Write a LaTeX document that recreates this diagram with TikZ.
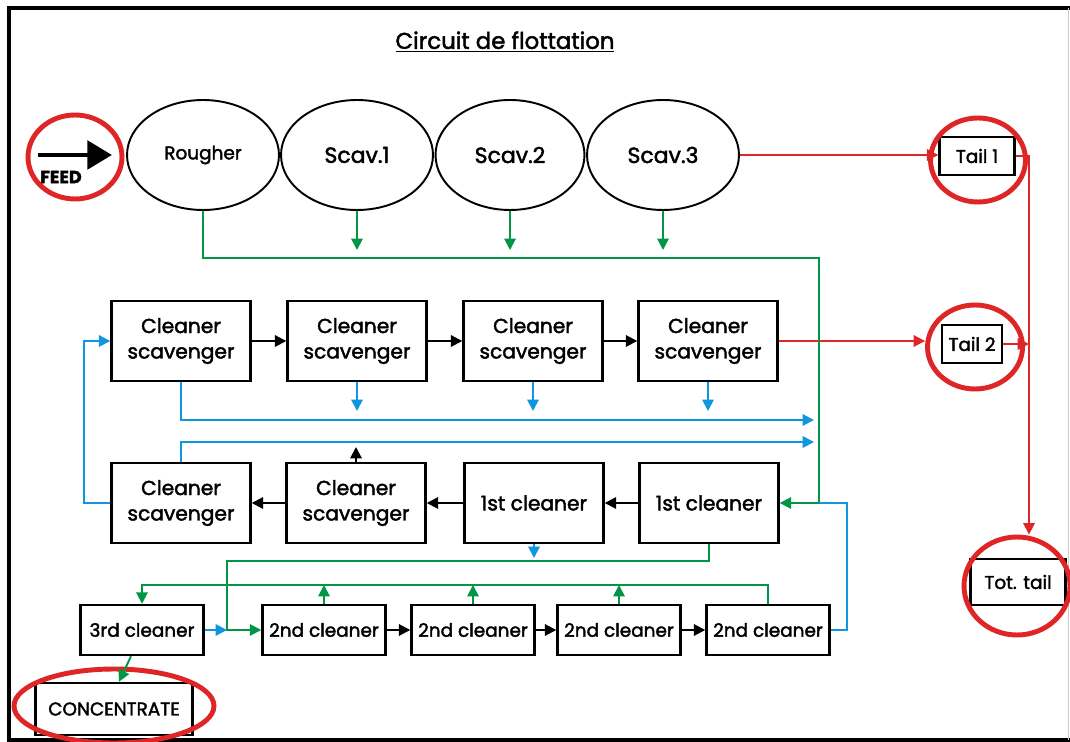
\documentclass[tikz,border=0pt]{standalone}
\usepackage{fontspec}
\setmainfont{Poppins}[FakeBold=2]
\usetikzlibrary{arrows.meta,shapes.geometric}
\definecolor{cred}{RGB}{222,38,38}
\definecolor{cgreen}{RGB}{0,150,70}
\definecolor{cblue}{RGB}{15,150,222}

\begin{document}
\begin{tikzpicture}[x=0.02cm,y=-0.02cm,
	tank/.style={draw,ellipse,line width=1.1pt,minimum width=3.04cm,minimum height=2.2cm,inner sep=0pt,font=\fontsize{12.5}{14}\selectfont},
	cell/.style={draw,line width=1.4pt,minimum width=2.78cm,minimum height=1.6cm,inner sep=0pt,align=center,font=\fontsize{11.5}{14.5}\selectfont},
	small/.style={cell,minimum width=2.46cm,minimum height=1cm,font=\fontsize{10.5}{12}\selectfont},
	tailbox/.style={draw,line width=1.4pt,minimum height=0.76cm,inner sep=0pt,font=\fontsize{10.5}{12}\selectfont},
	ring/.style={draw=cred,ellipse,line width=2.8pt,inner sep=0pt},
	tip/.style={-{Triangle[length=6.5pt,width=6.5pt]}},
	kline/.style={line width=1.1pt},
	gline/.style={draw=cgreen,line width=1.1pt},
	bline/.style={draw=cblue,line width=1.1pt},
	rline/.style={draw=cred,line width=1.1pt}]
	\useasboundingbox (0,0) rectangle (1070,742);
	% frame
	\draw[line width=2.4pt] (1070,8) -- (9,8) -- (9,740) -- (1070,740);
	\draw[gray!40,line width=0.4pt] (1068,8) -- (1068,740);
	\node[font=\fontsize{13}{15}\selectfont] (title) at (505,42) {\underline{Circuit de flottation}};

	% feed and flotation tanks
	\node[ring,minimum width=1.88cm,minimum height=1.68cm] (feedring) at (75,157) {};
	\coordinate (fa) at (38,155);
	\coordinate (fb) at (112,155);
	\draw[line width=2.8pt,-{Triangle[length=14pt,width=16pt]}] (fa) -- (fb);
	\node[font=\bfseries\fontsize{10}{12}\selectfont] (feed) at (61,177) {FEED};
	\node[tank,font=\fontsize{10.5}{12}\selectfont] (rough) at (203,155) {Rougher};
	\node[tank] (scav1) at (357,155) {Scav.1};
	\node[tank,minimum width=2.98cm] (scav2) at (510,155) {Scav.2};
	\node[tank] (scav3) at (663,155) {Scav.3};

	% tails
	\node[tailbox,minimum width=1.5cm] (tail1) at (977,156) {Tail 1};
	\node[ring,minimum width=1.9cm,minimum height=1.68cm] (t1ring) at (978,160) {};
	\node[tailbox,minimum width=1.2cm] (tail2) at (972,344) {Tail 2};
	\node[ring,minimum width=1.9cm,minimum height=1.68cm] (t2ring) at (975,347) {};
	\node[tailbox,minimum width=1.9cm,minimum height=0.92cm] (tot) at (1018,582) {Tot. tail};
	\node[ring,minimum width=2.12cm,minimum height=1.96cm] (totring) at (1017,586) {};

	% cleaner scavengers
	\node[cell] (cs1) at (181,341) {Cleaner\\scavenger};
	\node[cell] (cs2) at (357,341) {Cleaner\\scavenger};
	\node[cell] (cs3) at (533,341) {Cleaner\\scavenger};
	\node[cell] (cs4) at (708,341) {Cleaner\\scavenger};
	\node[cell] (csb1) at (181,503) {Cleaner\\scavenger};
	\node[cell] (csb2) at (356,503) {Cleaner\\scavenger};
	\node[cell] (c1a) at (534,503) {1st cleaner};
	\node[cell] (c1b) at (709,503) {1st cleaner};

	% cleaners
	\node[small] (c3) at (142,630) {3rd cleaner};
	\node[small] (c2a) at (324,630) {2nd cleaner};
	\node[small] (c2b) at (473,630) {2nd cleaner};
	\node[small] (c2c) at (619,630) {2nd cleaner};
	\node[small] (c2d) at (768,630) {2nd cleaner};
	\node[draw,line width=1.4pt,minimum width=3.14cm,minimum height=1.04cm,font=\fontsize{10.5}{12}\selectfont] (conc) at (114,709) {CONCENTRATE};
	\node[ring,minimum width=4cm,minimum height=1.48cm] (concring) at (114,706) {};

	% helper points
	\coordinate (gstop) at (0,250);
	\coordinate (gtop) at (819,258);
	\coordinate (jn) at (819,503);
	\coordinate (bstop) at (0,411);
	\coordinate (bend1) at (814,420);
	\coordinate (bend2) at (814,442);
	\coordinate (kstop) at (0,447);
	\coordinate (bleft) at (84,0);
	\coordinate (bright) at (847,0);
	\coordinate (g2) at (0,561);
	\coordinate (gx) at (227,0);
	\coordinate (b3stop) at (0,558);
	\coordinate (g3) at (0,585);
	\coordinate (rx) at (1029,0);

	% tailings (red)
	\draw[rline,tip] (scav3.east) -- (scav3.east -| tail1.west);
	\draw[rline,tip] (tail1.east) -| (rx |- totring.north);
	\draw[rline,tip] (cs4.east) -- (cs4.east -| t2ring.west);
	\draw[rline,tip] (tail2.east) -- (rx |- tail2.east);

	% concentrates (green)
	\draw[gline] (rough.south) |- (gtop) -- (jn);
	\foreach \n in {scav1,scav2,scav3}
		\draw[gline,tip] (\n.south) -- (\n.south |- gstop);
	\draw[gline,tip] (jn) -- (c1b.east);
	\draw[gline,tip] (c1b.south) |- (gx |- g2) -- (gx |- c2a.west) -- (c2a.west);
	\draw[gline,tip] (c2d.north) |- (c3.north |- g3) -- (c3.north);
	\foreach \n in {c2a,c2b,c2c}
		\draw[gline,tip] (\n.north) -- (\n.north |- g3);
	\draw[gline,tip] ([xshift=-0.22cm]c3.south) -- ([xshift=0.1cm]conc.north);

	% cleaner scavenger lines (blue)
	\draw[bline,tip] (cs1.south) |- (bend1);
	\foreach \n in {cs2,cs3,cs4}
		\draw[bline,tip] (\n.south) -- (\n.south |- bstop);
	\draw[bline,tip] (csb1.north) |- (bend2);
	\draw[bline,tip] (csb1.west) -| (bleft |- cs1.west) -- (cs1.west);
	\draw[bline] (c2d.east) -| (bright |- jn) -- (jn);
	\draw[bline,tip] (c1a.south) -- (c1a.south |- b3stop);
	\draw[bline,tip] (c3.east) -- (gx |- c3.east);

	% black flows
	\draw[kline,tip] (cs1) -- (cs2);
	\draw[kline,tip] (cs2) -- (cs3);
	\draw[kline,tip] (cs3) -- (cs4);
	\draw[kline,tip] (c1b) -- (c1a);
	\draw[kline,tip] (c1a) -- (csb2);
	\draw[kline,tip] (csb2) -- (csb1);
	\draw[kline,tip] (csb2.north) -- (csb2.north |- kstop);
	\draw[kline,tip] (c2a) -- (c2b);
	\draw[kline,tip] (c2b) -- (c2c);
	\draw[kline,tip] (c2c) -- (c2d);
\end{tikzpicture}
\end{document}
